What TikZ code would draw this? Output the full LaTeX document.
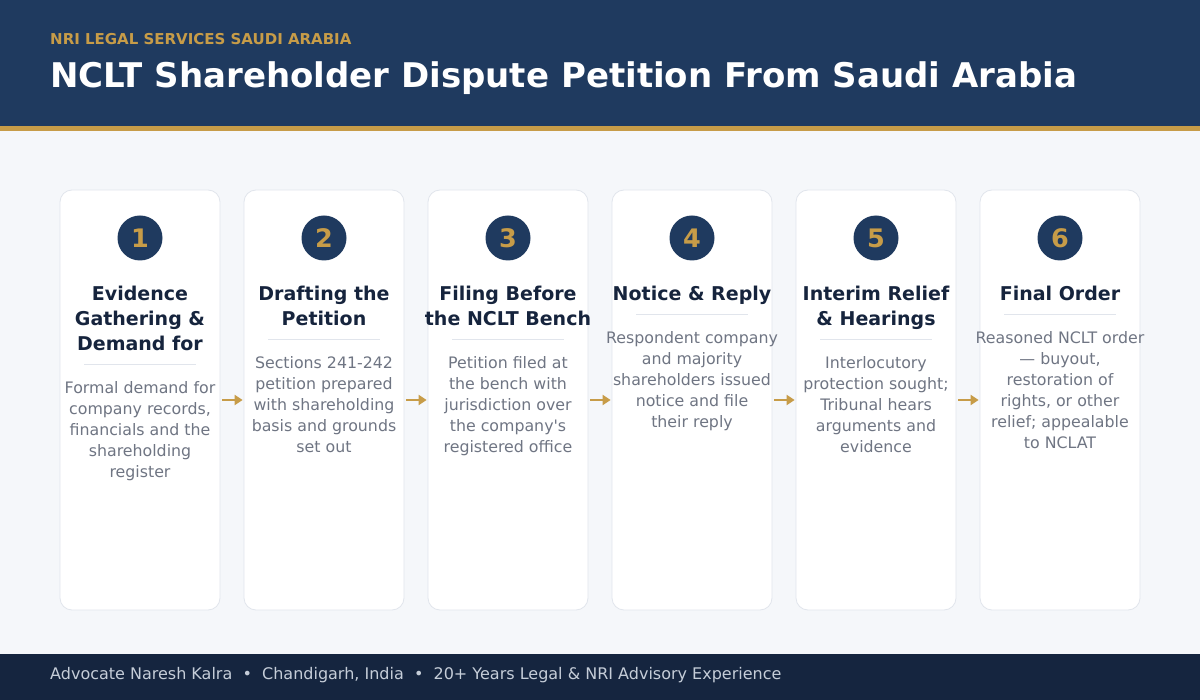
\documentclass[tikz,border=0pt]{standalone}
\usepackage{fontspec}
\setmainfont{DejaVu Sans}
\usetikzlibrary{arrows.meta,positioning,calc}
\definecolor{navy}{HTML}{1F3A5F}
\definecolor{deepnavy}{HTML}{15253F}
\definecolor{gold}{HTML}{C79C48}
\definecolor{pagebg}{HTML}{F5F7FA}
\definecolor{cardline}{HTML}{E1E5EC}
\definecolor{inktext}{HTML}{16243D}
\definecolor{greytext}{HTML}{6F7583}
\definecolor{footertext}{HTML}{C5CDD8}
\tikzset{
  card/.style={draw=cardline, fill=white, rounded corners=12pt, minimum width=160pt, minimum height=420pt, line width=0.8pt, inner sep=0pt},
  badge/.style={circle, fill=navy, minimum size=45pt, inner sep=0pt, text=gold, font=\fontsize{25.5}{25.5}\selectfont\bfseries},
  steptitle/.style={anchor=north, align=center, inner sep=0pt, text=inktext, font=\fontsize{19}{25}\selectfont\bfseries},
  stepbody/.style={anchor=north, align=center, inner sep=0pt, text=greytext, font=\fontsize{15.8}{21}\selectfont},
  rule/.style={draw=cardline, line width=1pt},
  flow/.style={draw=gold, line width=2.8pt, -{Triangle[length=8pt,width=10pt]}, shorten <=2pt, shorten >=1pt}
}
\begin{document}
\begin{tikzpicture}[x=1pt,y=-1pt]
\useasboundingbox (0,0) rectangle (1200,700);
% page, header band and footer band
\fill[pagebg] (0,0) rectangle (1200,700);
\fill[navy] (0,0) rectangle (1200,126);
\fill[gold] (0,126) rectangle (1200,131);
\fill[deepnavy] (0,654) rectangle (1200,700);
\node[anchor=base west, inner sep=0pt, text=gold, font=\fontsize{15}{15}\selectfont\bfseries] (kicker) at (50,44.5) {NRI LEGAL SERVICES SAUDI ARABIA};
\node[anchor=base west, inner sep=0pt, text=white, font=\fontsize{34}{34}\selectfont\bfseries] (headline) at (50,88) {NCLT Shareholder Dispute Petition From Saudi Arabia};
\node[anchor=base west, inner sep=0pt, text=footertext, font=\fontsize{16}{16}\selectfont] (footer) at (50,679.5) {Advocate Naresh Kalra\ \ •\ \ Chandigarh, India\ \ •\ \ 20+ Years Legal \& NRI Advisory Experience};
% the six steps
\foreach \i/\nl/\ttl/\txt in {
  1/3/{Evidence\\Gathering \&\\Demand for}/{Formal demand for\\company records,\\financials and the\\shareholding\\register},
  2/2/{Drafting the\\Petition}/{Sections 241-242\\petition prepared\\with shareholding\\basis and grounds\\set out},
  3/2/{Filing Before\\the NCLT Bench}/{Petition filed at\\the bench with\\jurisdiction over\\the company\textquotesingle s\\registered office},
  4/1/{Notice \& Reply}/{Respondent company\\and majority\\shareholders issued\\notice and file\\their reply},
  5/2/{Interim Relief\\\& Hearings}/{Interlocutory\\protection sought;\\Tribunal hears\\arguments and\\evidence},
  6/1/{Final Order}/{Reasoned NCLT order\\— buyout,\\restoration of\\rights, or other\\relief; appealable\\to NCLAT}}
{
  \pgfmathsetmacro\cx{140+184*(\i-1)}
  \pgfmathsetmacro\sy{290+25*\nl}
  \node[card] (c\i) at (\cx,400) {};
  \node[badge] (n\i) at (\cx,238) {\i};
  \node[steptitle] (t\i) at (\cx,286) {\ttl};
  \draw[rule] (\cx-56,\sy) -- (\cx+56,\sy);
  \node[stepbody] (b\i) at (\cx,\sy+16) {\txt};
}
% arrows between the cards
\foreach \i [evaluate=\i as \j using int(\i+1)] in {1,...,5}
  \draw[flow] (c\i) -- (c\j);
\end{tikzpicture}
\end{document}
